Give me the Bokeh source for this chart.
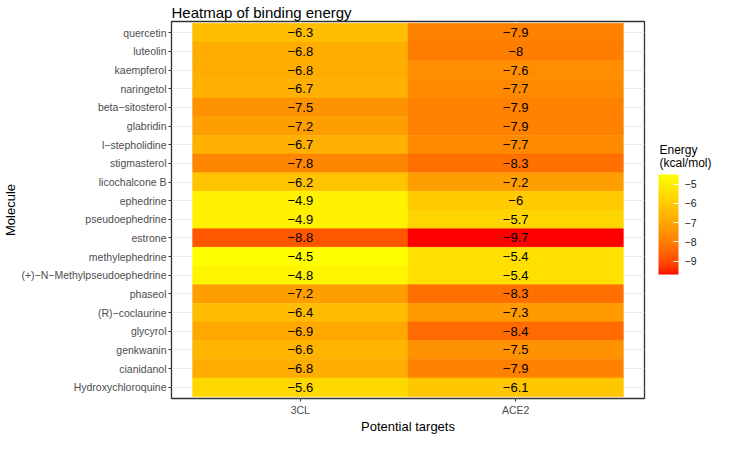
import numpy as np
from bokeh.plotting import figure
from bokeh.layouts import row
from bokeh.models import (ColumnDataSource, LinearColorMapper, ColorBar, FixedTicker,
                          CustomJSTickFormatter, FactorRange, Range1d, Label)
from bokeh.core.properties import value
from bokeh.embed import file_html
from bokeh.resources import INLINE

MINUS = "\u2212"

molecules = ["quercetin", "luteolin", "kaempferol", "naringetol", "beta-sitosterol",
             "glabridin", "l-stepholidine", "stigmasterol", "licochalcone B", "ephedrine",
             "pseudoephedrine", "estrone", "methylephedrine", "(+)-N-Methylpseudoephedrine",
             "phaseol", "(R)-coclaurine", "glycyrol", "genkwanin", "cianidanol",
             "Hydroxychloroquine"]
targets = ["3CL", "ACE2"]
energy_3cl = [-6.3, -6.8, -6.8, -6.7, -7.5, -7.2, -6.7, -7.8, -6.2, -4.9,
              -4.9, -8.8, -4.5, -4.8, -7.2, -6.4, -6.9, -6.6, -6.8, -5.6]
energy_ace2 = [-7.9, -8.0, -7.6, -7.7, -7.9, -7.9, -7.7, -8.3, -7.2, -6.0,
               -5.7, -9.7, -5.4, -5.4, -8.3, -7.3, -8.4, -7.5, -7.9, -6.1]
legend_ticks = [-9, -8, -7, -6, -5]

FONT = "Liberation Sans"


# --- Lab interpolation palette (red -> yellow), like ggplot's scale_fill_gradient
def _lin(c):
    c = np.asarray(c, float) / 255.0
    return np.where(c <= 0.04045, c / 12.92, ((c + 0.055) / 1.055) ** 2.4)


def _unlin(c):
    c = np.where(c <= 0.0031308, 12.92 * c, 1.055 * np.clip(c, 0, None) ** (1 / 2.4) - 0.055)
    return np.clip(np.round(c * 255), 0, 255).astype(int)


M = np.array([[0.4124, 0.3576, 0.1805], [0.2126, 0.7152, 0.0722], [0.0193, 0.1192, 0.9505]])
WN = np.array([0.95047, 1.0, 1.08883])
d = 6 / 29


def rgb2lab(rgb):
    xyz = M @ _lin(rgb) / WN
    f = np.where(xyz > d ** 3, np.cbrt(xyz), xyz / (3 * d * d) + 4 / 29)
    return np.array([116 * f[1] - 16, 500 * (f[0] - f[1]), 200 * (f[1] - f[2])])


def lab2rgb(lab):
    L, a, b = lab
    fy = (L + 16) / 116
    fx = fy + a / 500
    fz = fy - b / 200
    f = np.array([fx, fy, fz])
    xyz = np.where(f > d, f ** 3, 3 * d * d * (f - 4 / 29)) * WN
    return _unlin(np.linalg.solve(M, xyz))


lab_lo = rgb2lab([255, 0, 0])
lab_hi = rgb2lab([255, 255, 0])
palette = []
for t in np.linspace(0, 1, 256):
    r, g, b = lab2rgb(lab_lo + (lab_hi - lab_lo) * t)
    palette.append("#%02x%02x%02x" % (r, g, b))

disp_mol = [m.replace("-", MINUS) for m in molecules]

xs, ys, vals, labels = [], [], [], []
for i, m in enumerate(disp_mol):
    for t, v in zip(targets, [energy_3cl[i], energy_ace2[i]]):
        xs.append(t)
        ys.append(m)
        vals.append(v)
        labels.append(("%g" % v).replace("-", MINUS))

src = ColumnDataSource(dict(x=xs, y=ys, v=vals, label=labels))
all_vals = energy_3cl + energy_ace2
mapper = LinearColorMapper(palette=palette, low=min(all_vals), high=max(all_vals))

H = 436
MAIN_W = 646
LEG_W = 713 - MAIN_W

p = figure(width=MAIN_W, height=H, output_backend="svg", toolbar_location=None,
           x_range=FactorRange(factors=targets, range_padding=0.098),
           y_range=FactorRange(factors=list(reversed(disp_mol)), range_padding=0.01),
           min_border_left=164, min_border_top=0, min_border_bottom=0, min_border_right=2)

p.rect(x="x", y="y", width=1, height=1, source=src,
       fill_color={"field": "v", "transform": mapper},
       line_color={"field": "v", "transform": mapper}, line_width=0.5)
p.text(x="x", y="y", text="label", source=src, text_align="center", text_baseline="middle",
       text_font=value(FONT), text_font_size="13px", text_color="black")

p.title.text = "Heatmap of binding energy"
p.title.text_font = FONT
p.title.text_font_size = "15px"
p.title.text_font_style = "normal"
p.title.text_color = "black"
p.title.align = "left"
p.title.offset = 0
p.title.standoff = 2

p.outline_line_color = "#333333"
p.outline_line_width = 1.3
p.background_fill_color = "white"
p.grid.grid_line_color = "#ebebeb"
p.grid.grid_line_width = 1

for ax in (p.xaxis, p.yaxis):
    ax.axis_line_color = None
    ax.major_tick_line_color = "#333333"
    ax.major_tick_in = 0
    ax.major_tick_out = 3
    ax.minor_tick_line_color = None
    ax.major_label_text_font = FONT
    ax.major_label_text_font_size = "10.5px"
    ax.major_label_text_color = "#4d4d4d"
    ax.major_label_standoff = 2
    ax.axis_label_text_font = FONT
    ax.axis_label_text_font_size = "13px"
    ax.axis_label_text_font_style = "normal"
    ax.axis_label_text_color = "black"
    ax.axis_label_standoff = 0

p.xaxis.axis_label = "Potential targets"
p.yaxis.axis_label = "Molecule"

# legend panel (its frame is aligned with the main frame by the row layout)
leg = figure(width=LEG_W, height=H, output_backend="svg", toolbar_location=None,
             x_axis_type=None, y_axis_type=None, min_border=0,
             x_range=Range1d(0, 1), y_range=Range1d(0, 1))
leg.outline_line_color = None
leg.grid.visible = False

BAR_X, BAR_BOTTOM = 12, 124
cb = ColorBar(color_mapper=mapper, width=20, height=100, location=(BAR_X, BAR_BOTTOM),
              ticker=FixedTicker(ticks=legend_ticks),
              formatter=CustomJSTickFormatter(code="return String(tick).replace('-', '\u2212');"),
              major_label_text_font=FONT, major_label_text_font_size="10.5px",
              major_label_text_color="#1a1a1a", label_standoff=6,
              major_tick_line_color="white", major_tick_in=5, major_tick_out=0,
              bar_line_color=None, border_line_color=None, background_fill_color=None,
              padding=0, margin=0)
leg.add_layout(cb, "center")

leg.add_layout(Label(x=BAR_X + 1, y=BAR_BOTTOM + 100 + 12, x_units="screen", y_units="screen",
                     text="(kcal/mol)", text_font=FONT, text_font_size="12px",
                     text_baseline="middle", text_align="left", text_color="black"))
leg.add_layout(Label(x=BAR_X + 1, y=BAR_BOTTOM + 100 + 25, x_units="screen", y_units="screen",
                     text="Energy", text_font=FONT, text_font_size="12px",
                     text_baseline="middle", text_align="left", text_color="black"))

layout = row(p, leg, spacing=0)
open("out.html", "w").write(file_html(layout, INLINE))
